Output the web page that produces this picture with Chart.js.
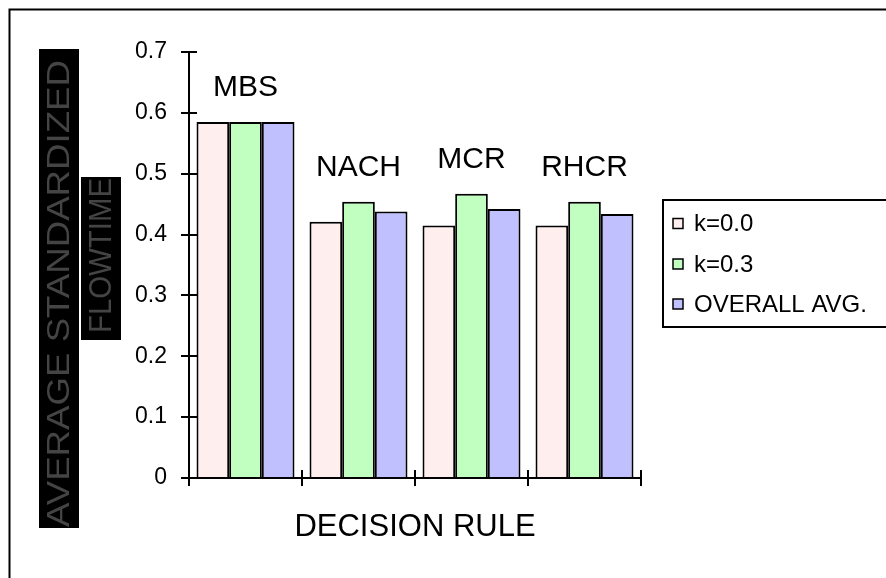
<!DOCTYPE html>
<html>
<head>
<meta charset="utf-8">
<script src="https://cdn.jsdelivr.net/npm/chart.js@4.4.1/dist/chart.umd.min.js"></script>
<style>
    html, body { margin: 0; padding: 0; background: #fff; }
    #wrap { width: 886px; height: 578px; }
</style>
</head>
<body>
<div id="wrap"><canvas id="chart" width="886" height="578"></canvas></div>
<script>
// Data
const rules = ['MBS', 'NACH', 'MCR', 'RHCR'];
const k00 = [0.585, 0.421, 0.415, 0.415];
const k03 = [0.585, 0.454, 0.467, 0.454];
const overallAvg = [0.585, 0.438, 0.442, 0.434];
const seriesNames = ['k=0.0', 'k=0.3', 'OVERALL AVG.'];
const yTicks = [0, 0.1, 0.2, 0.3, 0.4, 0.5, 0.6, 0.7];
const yTitleLines = ['AVERAGE STANDARDIZED', 'FLOWTIME'];
const xTitle = 'DECISION RULE';

const colors = ['#FFEEEE', '#C0FFC0', '#C0C0FF'];
const FONT = '"Liberation Sans", Arial, sans-serif';

// draws the frame, boxed y title, inner tick halves, group labels, legend
const decorPlugin = {
    id: 'decor',
    beforeDraw(chart) {
        const ctx = chart.ctx;
        ctx.save();
        ctx.fillStyle = '#fff';
        ctx.fillRect(0, 0, chart.width, chart.height);
        ctx.strokeStyle = '#000';
        ctx.lineWidth = 2;
        ctx.strokeRect(9.5, 9.5, 1000, 1000);

        // y title, boxed in black
        drawBoxText(ctx, yTitleLines[0], 39, 49, 40, 479, 59, 293.5, 467);
        drawBoxText(ctx, yTitleLines[1], 81, 177, 40, 163, 101, 255.5, 155);
        ctx.restore();
    },
    afterDatasetsDraw(chart) {
        const ctx = chart.ctx;
        const area = chart.chartArea;
        const xs = chart.scales.x;
        const ys = chart.scales.y;
        ctx.save();
        ctx.strokeStyle = '#000';
        ctx.lineWidth = 2;
        ctx.beginPath();
        yTicks.forEach(v => {
            const y = Math.round(ys.getPixelForValue(v));
            ctx.moveTo(area.left, y);
            ctx.lineTo(area.left + 8, y);
        });
        for (let i = 0; i <= rules.length; i++) {
            const x = Math.round(xs.getPixelForValue(i - 0.5));
            ctx.moveTo(x, area.bottom - 8);
            ctx.lineTo(x, area.bottom);
        }
        ctx.stroke();

        // group labels above the tallest bar
        ctx.fillStyle = '#000';
        ctx.font = '30px ' + FONT;
        ctx.textAlign = 'center';
        ctx.textBaseline = 'middle';
        rules.forEach((name, i) => {
            let top = Infinity;
            chart.data.datasets.forEach((ds, d) => {
                const bar = chart.getDatasetMeta(d).data[i];
                top = Math.min(top, bar.y);
            });
            ctx.fillText(name, xs.getPixelForValue(i), top - 34);
        });

        // x title
        ctx.font = '31px ' + FONT;
        ctx.fillText(xTitle, (area.left + area.right) / 2, 527);

        // legend
        ctx.lineWidth = 2;
        ctx.strokeRect(663, 200, 400, 127);
        ctx.font = '24px ' + FONT;
        ctx.textAlign = 'left';
        const rows = [223.5, 264, 304];
        seriesNames.forEach((name, i) => {
            ctx.fillStyle = colors[i];
            ctx.fillRect(673, rows[i] - 5, 10, 10);
            ctx.lineWidth = 1.5;
            ctx.strokeRect(673, rows[i] - 5, 10, 10);
            ctx.fillStyle = '#000';
            ctx.fillText(name, 694, rows[i] + 1);
        });
        ctx.restore();
    }
};

function drawBoxText(ctx, text, bx, by, bw, bh, cx, cy, len) {
    ctx.fillStyle = '#000';
    ctx.fillRect(bx, by, bw, bh);
    ctx.save();
    ctx.translate(cx, cy);
    ctx.rotate(-Math.PI / 2);
    ctx.font = '32px ' + FONT;
    const w = ctx.measureText(text).width;
    ctx.scale(len / w, 1);
    ctx.fillStyle = '#444';
    ctx.textAlign = 'center';
    ctx.textBaseline = 'middle';
    ctx.fillText(text, 0, 1);
    ctx.restore();
}

new Chart(document.getElementById('chart').getContext('2d'), {
    type: 'bar',
    data: {
        labels: rules,
        datasets: [k00, k03, overallAvg].map((vals, i) => ({
            label: seriesNames[i],
            data: vals,
            backgroundColor: colors[i],
            borderColor: '#000',
            borderWidth: 2,
            borderSkipped: 'bottom',
            categoryPercentage: 0.867,
            barPercentage: 1.0
        }))
    },
    options: {
        responsive: false,
        animation: false,
        layout: { padding: { left: 0, right: 245, top: 52, bottom: 0 } },
        plugins: {
            legend: { display: false },
            tooltip: { enabled: false }
        },
        scales: {
            x: {
                grid: { drawOnChartArea: false, drawTicks: true, tickLength: 8, color: '#000', lineWidth: 2, offset: true },
                border: { display: true, color: '#000', width: 2 },
                ticks: { display: false },
                afterFit(scale) { scale.height = 100; }
            },
            y: {
                min: 0,
                max: 0.7,
                afterBuildTicks(scale) { scale.ticks = yTicks.map(v => ({ value: v })); },
                grid: { drawOnChartArea: false, drawTicks: true, tickLength: 8, color: '#000', lineWidth: 2 },
                border: { display: true, color: '#000', width: 2 },
                ticks: { color: '#000', padding: 14, font: { family: FONT, size: 23 } },
                afterFit(scale) { scale.width = 189; }
            }
        }
    },
    plugins: [decorPlugin]
});
</script>
</body>
</html>
